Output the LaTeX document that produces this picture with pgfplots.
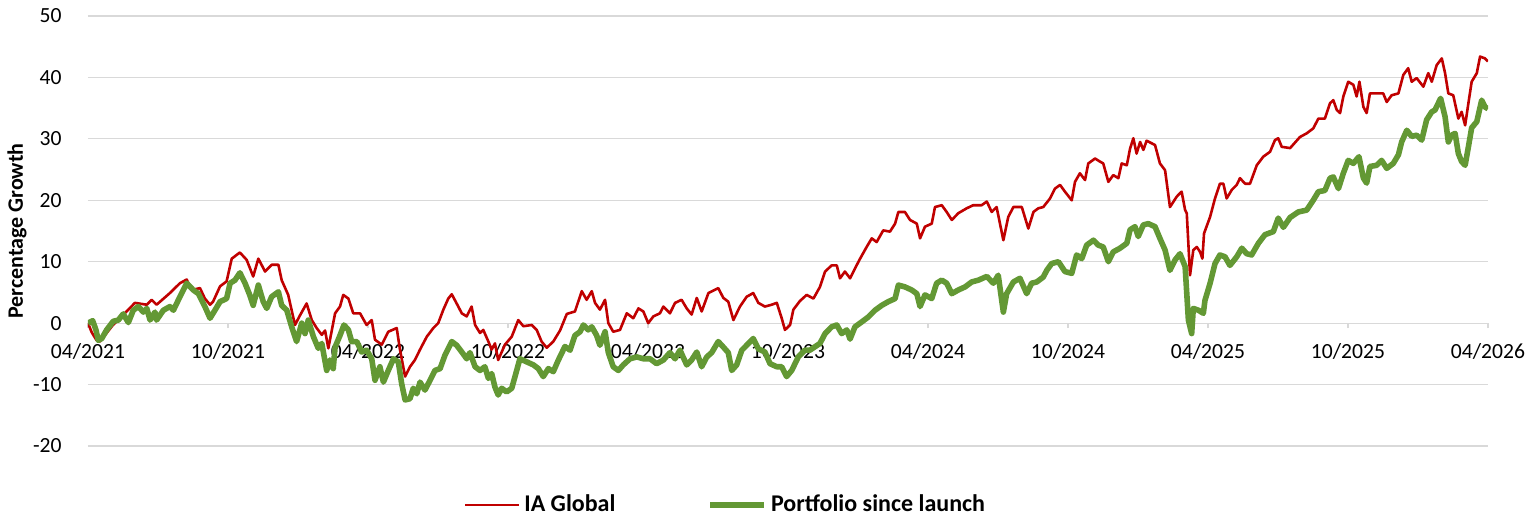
\documentclass[border=0pt]{standalone}
\usepackage{pgfplots}
\pgfplotsset{compat=1.18}
\usepackage{fontspec}
\setmainfont{Carlito}
\definecolor{iared}{RGB}{192,0,0}
\definecolor{pfgreen}{RGB}{99,152,52}
\definecolor{gridgray}{RGB}{217,217,217}
\begin{document}
\fontsize{10.5}{12.6}\selectfont
\begin{tikzpicture}
\useasboundingbox (-44pt,-36pt) rectangle (721.5pt,223pt);
\begin{axis}[
 at={(0,0)}, anchor=south west,
 scale only axis, width=700pt, height=215pt,
 xmin=0, xmax=60, ymin=-20, ymax=50,
 axis x line*=middle, axis y line*=left,
 hide obscured x ticks=false,
 x axis line style={draw=gridgray, line width=0.6pt, -},
 y axis line style={draw=none},
 xtick={0,6,...,60},
 xticklabels={04/2021,10/2021,04/2022,10/2022,04/2023,10/2023,04/2024,10/2024,04/2025,10/2025,04/2026},
 ytick={-20,-10,...,50},
 ymajorgrids, grid style={draw=gridgray, line width=0.6pt},
 tick align=outside, major tick length=2.5pt,
 xtick style={draw=gridgray, line width=0.6pt},
 ytick style={draw=none},
 /pgf/number format/assume math mode=true,
 tick label style={font=\fontsize{10.8}{12.6}\selectfont, text=black},
 xticklabel style={yshift=-4pt},
 yticklabel style={xshift=-7pt},
 ylabel={Percentage Growth},
 every axis y label/.style={at={(axis description cs:-0.0507,0.5)}, rotate=90, anchor=center, font=\bfseries\fontsize{11}{13}\selectfont},
 legend style={at={(0.456,-0.137)}, anchor=center, draw=none, fill=none,
   font=\bfseries\fontsize{12}{14}\selectfont,
   /tikz/every even column/.append style={column sep=44pt}},
 legend columns=2,
 legend image code/.code={\draw[#1] (0pt,0pt) -- (27pt,0pt);},
 line join=round,
]
\addplot[iared, line width=1.3pt] coordinates {
(0,0)(0.16,-1.5)(0.37,-2.8)(0.51,-3)(1.07,-0.3)(1.5,1.3)(2.01,3.3)(2.52,3)(2.73,3.8)(2.94,3)(3.51,4.9)(3.94,6.5)(4.23,7.1)(4.44,5.4)(4.8,5.7)(5.01,4)(5.23,3)(5.36,3.5)(5.66,6)(5.94,6.8)(6.16,10.5)(6.51,11.5)(6.8,10.3)(7.08,7.6)(7.3,10.5)(7.59,8.4)(7.87,9.5)(8.16,9.5)(8.3,7)(8.58,4.6)(8.87,-0.3)(9.09,1.3)(9.37,3.2)(9.59,0.5)(9.8,-0.8)(10.02,-1.9)(10.16,-1.2)(10.3,-4.1)(10.59,1.6)(10.8,2.7)(10.94,4.6)(11.16,4)(11.37,1.6)(11.66,1.6)(11.94,-0.3)(12.16,0.5)(12.3,-2.7)(12.59,-3.5)(12.87,-1.4)(13.23,-0.8)(13.37,-4.3)(13.59,-8.7)(13.8,-7.1)(14.01,-6)(14.23,-4.3)(14.52,-2.2)(14.8,-0.8)(15.01,0)(15.23,2.2)(15.44,4)(15.59,4.7)(15.8,3.2)(16.02,1.6)(16.23,1.1)(16.44,2.7)(16.59,-0.3)(16.8,-1.6)(16.94,-1.1)(17.16,-3)(17.3,-4.3)(17.44,-3.3)(17.58,-6)(17.87,-3.5)(18.16,-2.2)(18.44,0.5)(18.66,-0.5)(19.02,-0.3)(19.23,-1.1)(19.44,-3)(19.66,-4)(19.94,-3)(20.23,-1.2)(20.52,1.5)(20.87,1.9)(21.16,5.2)(21.37,3.8)(21.59,5.2)(21.73,3.3)(21.94,2.2)(22.16,3.8)(22.3,0)(22.51,-1.4)(22.8,-1.1)(23.09,1.6)(23.37,0.8)(23.59,2.4)(23.8,1.9)(24.01,0)(24.23,1.1)(24.51,1.6)(24.66,2.7)(24.94,1.6)(25.16,3.3)(25.44,3.8)(25.66,2.4)(25.87,1.4)(26.09,4.1)(26.3,1.9)(26.59,4.9)(27.01,5.7)(27.23,4.1)(27.44,3.5)(27.66,0.5)(27.94,2.7)(28.23,4.3)(28.51,4.9)(28.73,3.3)(29.01,2.7)(29.3,3)(29.52,3.3)(29.73,0.8)(29.87,-1.1)(30.09,-0.3)(30.23,2.2)(30.51,3.6)(30.8,4.6)(31.09,4)(31.37,5.9)(31.59,8.4)(31.87,9.4)(32.09,9.4)(32.23,7.3)(32.44,8.4)(32.66,7.3)(32.87,8.9)(33.09,10.5)(33.37,12.4)(33.59,13.8)(33.8,13.2)(34.08,15.1)(34.37,14.9)(34.59,16.2)(34.73,18.1)(35.01,18.1)(35.23,16.8)(35.52,16.2)(35.66,13.8)(35.87,15.7)(36.16,16.2)(36.3,18.9)(36.59,19.2)(36.8,18.1)(37.02,16.8)(37.3,17.9)(37.66,18.7)(37.94,19.2)(38.3,19.2)(38.52,19.8)(38.73,18.1)(38.94,18.9)(39.23,13.5)(39.44,17.3)(39.66,18.9)(40.02,18.9)(40.3,15.4)(40.52,18.1)(40.73,18.7)(40.94,18.9)(41.23,20.3)(41.44,21.9)(41.66,22.5)(41.87,21.4)(42.16,20)(42.3,23)(42.51,24.4)(42.73,23.3)(42.87,26)(43.16,26.8)(43.37,26.3)(43.51,26)(43.73,23)(43.94,24.1)(44.16,23.6)(44.3,26)(44.52,25.7)(44.66,28.4)(44.8,30.1)(44.94,27.6)(45.09,29.5)(45.23,28.2)(45.37,29.7)(45.73,29)(45.94,26)(46.16,24.9)(46.37,18.9)(46.66,20.6)(46.87,21.4)(47.02,18.4)(47.09,17.9)(47.23,7.8)(47.37,11.9)(47.52,12.4)(47.66,11.6)(47.76,10.5)(47.83,14.6)(48.09,17.3)(48.3,20.3)(48.51,22.7)(48.66,22.7)(48.8,20.3)(49.02,21.7)(49.23,22.5)(49.37,23.6)(49.59,22.7)(49.8,22.7)(50.09,25.7)(50.37,27.1)(50.66,27.9)(50.87,29.8)(51.01,30.1)(51.16,28.7)(51.52,28.5)(51.94,30.3)(52.23,30.9)(52.51,31.7)(52.73,33.3)(53.01,33.3)(53.23,35.8)(53.37,36.3)(53.52,34.7)(53.66,34.2)(53.8,36.9)(54.01,39.3)(54.23,38.8)(54.37,36.9)(54.49,39.3)(54.66,35.2)(54.8,34.2)(54.94,37.4)(55.51,37.4)(55.66,36)(55.87,37.1)(56.16,37.4)(56.37,40.4)(56.58,41.5)(56.73,39.3)(56.94,39.9)(57.23,38.5)(57.44,40.7)(57.59,39.3)(57.8,42)(58.02,43.1)(58.16,40.7)(58.3,37.4)(58.51,37.1)(58.73,33.3)(58.87,34.4)(59.02,32.2)(59.16,35.8)(59.3,39.3)(59.52,40.7)(59.66,43.4)(59.87,43.1)(60,42.6)
};
\addlegendentry{IA Global}
\addplot[pfgreen, line width=2.8pt] coordinates {
(0,0)(0.2,0.4)(0.34,-1.1)(0.44,-2.8)(0.59,-2.5)(0.8,-1.1)(1.08,0.3)(1.3,0.5)(1.51,1.5)(1.73,0.1)(1.94,2.1)(2.16,2.7)(2.37,1.8)(2.52,2.4)(2.66,0.5)(2.87,1.8)(2.94,0.5)(3.23,2.1)(3.51,2.7)(3.66,2.1)(3.94,4.3)(4.23,6.5)(4.51,5.4)(4.73,4.8)(5.01,2.7)(5.23,0.8)(5.44,2.1)(5.66,3.5)(5.94,4)(6.09,6.5)(6.3,7)(6.51,8.2)(6.73,6.5)(6.94,4.5)(7.08,2.9)(7.3,6.2)(7.51,3.5)(7.66,2.4)(7.87,4.3)(8.16,5.1)(8.3,2.9)(8.52,2.1)(8.73,-0.6)(8.94,-3)(9.16,0)(9.3,-1.7)(9.44,0.5)(9.66,-2.2)(9.87,-4.1)(10.02,-3.3)(10.23,-7.7)(10.37,-6)(10.51,-7.4)(10.59,-3.9)(10.8,-2)(10.97,-0.3)(11.16,-1.1)(11.3,-3)(11.52,-3)(11.73,-4.7)(11.94,-4.4)(12.16,-5.8)(12.3,-9.3)(12.51,-7.1)(12.66,-9.6)(12.87,-7.7)(13.09,-5.8)(13.3,-6.3)(13.44,-9.8)(13.59,-12.5)(13.8,-12.3)(13.94,-10.6)(14.09,-11.5)(14.23,-9.6)(14.44,-10.9)(14.66,-9.3)(14.87,-7.7)(15.09,-7.4)(15.3,-5.2)(15.59,-3)(15.8,-3.6)(16.02,-4.7)(16.23,-5.8)(16.37,-4.8)(16.59,-7.1)(16.8,-7.7)(17.01,-7.1)(17.16,-9)(17.3,-8.2)(17.44,-10.4)(17.58,-11.7)(17.73,-10.6)(17.94,-11.2)(18.16,-10.6)(18.3,-8.7)(18.51,-5.8)(18.8,-6.3)(19.09,-6.8)(19.3,-7.4)(19.51,-8.7)(19.73,-7.4)(19.94,-7.9)(20.16,-6)(20.44,-3.8)(20.66,-4.4)(20.87,-2)(21.09,-1.4)(21.23,-0.3)(21.44,-1.1)(21.59,-0.6)(21.8,-2)(21.94,-3.6)(22.16,-1.4)(22.3,-4.8)(22.51,-7.1)(22.73,-7.7)(22.94,-6.8)(23.23,-5.8)(23.52,-5.5)(23.8,-5.8)(24.09,-5.8)(24.37,-6.6)(24.66,-6)(24.94,-4.8)(25.16,-5.8)(25.37,-4.4)(25.66,-6.8)(25.87,-6)(26.09,-4.7)(26.3,-7.1)(26.52,-5.5)(26.73,-4.8)(27.01,-3)(27.23,-3.9)(27.44,-4.8)(27.59,-7.7)(27.8,-6.8)(28.02,-4.4)(28.23,-3.6)(28.51,-2.5)(28.73,-4.2)(29.01,-4.7)(29.23,-6.6)(29.52,-7.1)(29.73,-7.1)(29.94,-8.7)(30.16,-7.7)(30.44,-5.5)(30.73,-4.4)(30.94,-4.4)(31.37,-3.3)(31.59,-1.7)(31.87,-0.6)(32.09,-0.3)(32.3,-1.7)(32.52,-1.1)(32.66,-2.6)(32.87,-0.6)(33.16,0.2)(33.44,1)(33.73,2.1)(34.02,2.9)(34.3,3.5)(34.59,4)(34.73,6.2)(35.01,5.9)(35.3,5.4)(35.52,4.8)(35.66,2.7)(35.87,4.6)(36.16,4)(36.37,6.5)(36.59,7)(36.8,6.5)(37.02,4.8)(37.3,5.4)(37.59,5.9)(37.87,6.7)(38.16,7)(38.52,7.6)(38.8,6.5)(39.01,7.8)(39.23,1.8)(39.37,4.8)(39.66,6.7)(39.94,7.3)(40.23,4.8)(40.44,6.5)(40.66,6.7)(40.94,7.5)(41.09,8.6)(41.3,9.7)(41.59,10)(41.87,8.4)(42.16,8.1)(42.37,11.1)(42.59,10.5)(42.8,12.7)(43.09,13.5)(43.3,12.7)(43.51,12.4)(43.73,10)(43.94,11.6)(44.23,12.2)(44.52,13)(44.66,15.2)(44.87,15.7)(45.01,14.1)(45.23,16)(45.44,16.2)(45.73,15.7)(45.94,13.8)(46.16,11.9)(46.37,8.6)(46.59,10.3)(46.8,11.3)(47.02,9.2)(47.16,0.5)(47.3,-1.7)(47.37,2.4)(47.59,2.1)(47.8,1.6)(47.87,3.7)(48.09,6.5)(48.3,9.7)(48.51,11.1)(48.73,10.8)(48.94,9.4)(49.23,10.8)(49.45,12.2)(49.66,11.3)(49.87,11.1)(50.16,13)(50.44,14.4)(50.8,14.9)(51.01,17.1)(51.23,15.6)(51.52,17.2)(51.87,18.1)(52.23,18.4)(52.51,20)(52.73,21.4)(53.01,21.6)(53.23,23.6)(53.37,23.8)(53.59,21.9)(53.8,24.4)(54.01,26.5)(54.23,26)(54.47,27.1)(54.66,23.6)(54.8,22.8)(54.94,25.5)(55.23,25.7)(55.44,26.5)(55.66,25.2)(55.94,26)(56.16,27.4)(56.3,29.5)(56.52,31.4)(56.73,30.4)(56.94,30.6)(57.16,29.8)(57.37,33.1)(57.59,34.4)(57.73,34.7)(57.97,36.6)(58.16,33.6)(58.3,29.5)(58.44,30.6)(58.59,30.9)(58.73,27.6)(58.87,26.3)(59.02,25.7)(59.16,28.7)(59.3,31.8)(59.52,32.8)(59.73,36.3)(59.87,35.2)(60,34.9)
};
\addlegendentry{Portfolio since launch}
\end{axis}
\end{tikzpicture}
\end{document}
